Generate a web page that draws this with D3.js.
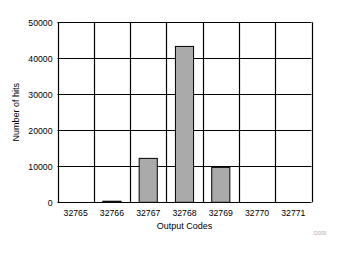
<!DOCTYPE html>
<html><head><meta charset="utf-8">
<script src="https://cdn.jsdelivr.net/npm/d3@7"></script>
<style>body{margin:0;background:#fff}svg{display:block}text{font-family:"Liberation Sans",Arial,sans-serif}</style>
</head><body><svg id="c" width="344" height="254"></svg>
<script>
const categories = ["32765","32766","32767","32768","32769","32770","32771"];
const hits = [0, 300, 12200, 43300, 9700, 0, 0];
const yTicks = [0, 10000, 20000, 30000, 40000, 50000];

const svg = d3.select("#c");
const m = {l:57.5, r:311.5, t:22.3, b:202.3};
const x = d3.scaleBand().domain(categories).range([m.l, m.r]);
const y = d3.scaleLinear().domain([0, 50000]).range([m.b, m.t]);

// horizontal grid
svg.append("g").selectAll("line").data(yTicks).join("line")
  .attr("x1", m.l).attr("x2", m.r)
  .attr("y1", d => Math.round(y(d)) + 0.5).attr("y2", d => Math.round(y(d)) + 0.5)
  .attr("stroke", "#000").attr("stroke-width", 1.2);
// vertical grid at band edges
const edges = categories.map(c => x(c)).concat([m.r]);
svg.append("g").selectAll("line").data(edges).join("line")
  .attr("x1", d => Math.round(d) + 0.5).attr("x2", d => Math.round(d) + 0.5)
  .attr("y1", m.t).attr("y2", m.b)
  .attr("stroke", "#000").attr("stroke-width", 1.2);

// bars
const bw = x.bandwidth() * 0.5;
svg.append("g").selectAll("rect").data(categories.map((c,i)=>({c, v:hits[i]})).filter(d=>d.v>0)).join("rect")
  .attr("x", d => x(d.c) + (x.bandwidth() - bw) / 2)
  .attr("width", bw)
  .attr("y", d => y(d.v))
  .attr("height", d => y(0) - y(d.v))
  .attr("fill", "#aaaaaa").attr("stroke", "#000").attr("stroke-width", 1);

// axes labels
const yAxis = d3.axisLeft(y).tickValues(yTicks).tickSize(0).tickPadding(5).tickFormat(d3.format("d"));
const ga = svg.append("g").attr("transform", `translate(${m.l},0)`).call(yAxis);
ga.select(".domain").remove();
ga.selectAll("text").attr("font-size", 8.7).attr("fill", "#000").style("font-family", '"Liberation Sans",Arial,sans-serif');

const xAxis = d3.axisBottom(x).tickSize(0).tickPadding(8);
const gx = svg.append("g").attr("transform", `translate(0,${m.b})`).call(xAxis);
gx.select(".domain").remove();
gx.selectAll("text").attr("font-size", 8.7).attr("fill", "#000").style("font-family", '"Liberation Sans",Arial,sans-serif');

svg.append("text").attr("x", (m.l + m.r) / 2).attr("y", 229)
  .attr("text-anchor", "middle").attr("font-size", 9).text("Output Codes");
svg.append("text").attr("transform", `translate(19,${(m.t + m.b) / 2}) rotate(-90)`)
  .attr("text-anchor", "middle").attr("font-size", 9).text("Number of hits");
svg.append("text").attr("x", 326).attr("y", 235).attr("text-anchor", "end")
  .attr("font-size", 5).attr("fill", "#aaa").text("D009");
</script></body></html>
